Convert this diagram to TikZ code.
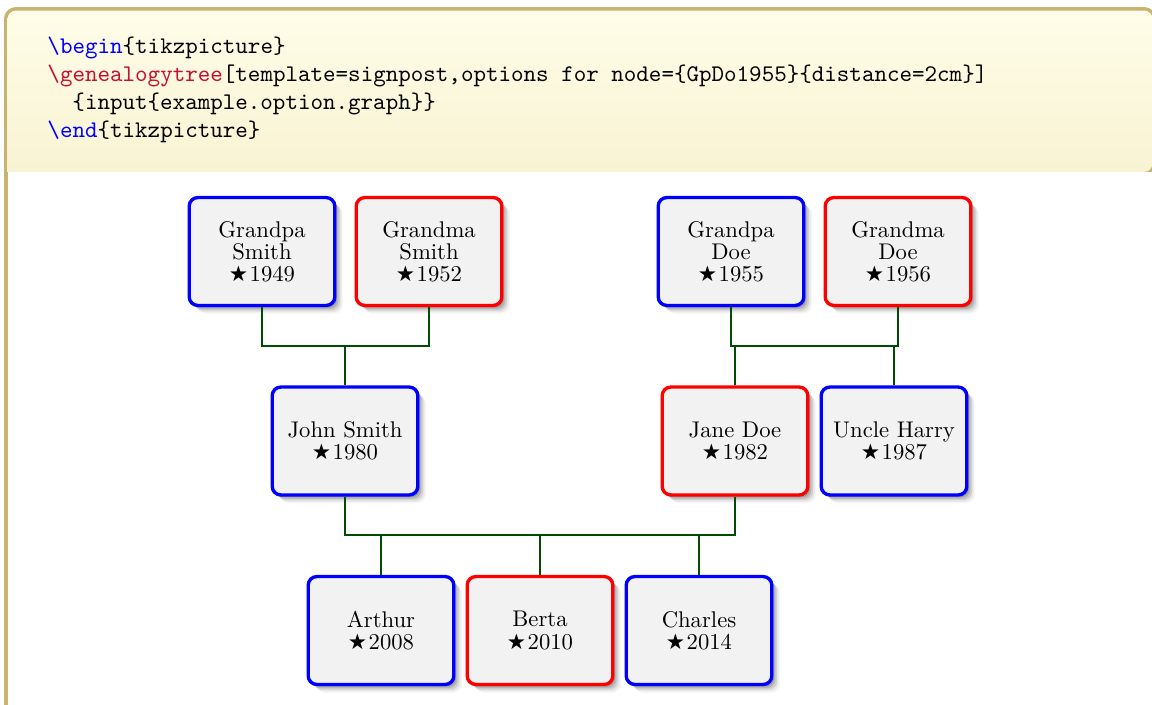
\documentclass[tikz,border=0pt]{standalone}
\usepackage{fontspec}
\newfontfamily\gtsym{DejaVu Sans}
\usetikzlibrary{shadows}
\definecolor{framec}{RGB}{200,180,110}
\definecolor{uptop}{RGB}{255,253,233}
\definecolor{upbot}{RGB}{248,243,210}
\definecolor{kwblue}{RGB}{0,0,255}
\definecolor{kwred}{RGB}{200,16,46}
\definecolor{connc}{RGB}{0,76,0}
\newcommand\gtborn{{\gtsym\fontsize{9}{9}\selectfont ★}\kern0.6pt}
\begin{document}
\begin{tikzpicture}[x=0.41894pt,y=-0.41894pt,
  fuzzy/.style={
    general shadow={shadow xshift=0.9pt,shadow yshift=-0.9pt,fill=black,opacity=.15},
    general shadow={shadow xshift=1.5pt,shadow yshift=-1.5pt,fill=black,opacity=.13},
    general shadow={shadow xshift=2.2pt,shadow yshift=-2.2pt,fill=black,opacity=.10},
    general shadow={shadow xshift=2.9pt,shadow yshift=-2.9pt,fill=black,opacity=.06},
    general shadow={shadow xshift=3.5pt,shadow yshift=-3.5pt,fill=black,opacity=.03}},
  pbox/.style={rectangle, rounded corners=3.6pt, line width=1.4pt, fill=gray!10,
    minimum width=61pt, minimum height=45.2pt, align=center, inner sep=1pt,
    font=\fontsize{9.5}{9.3}\selectfont, fuzzy,
    execute at begin node={\rule{0pt}{10.2pt}}},
  male/.style={pbox, draw=blue},
  female/.style={pbox, draw=red},
  conn/.style={draw=connc, line width=1.2pt},
  codeline/.style={anchor=base west, inner sep=0pt, font=\ttfamily\fontsize{10}{12}\selectfont}]
\useasboundingbox (0,0) rectangle (1152,704);
\clip (0,0) rectangle (1152,704);
% frame
\fill[framec, rounded corners=5pt] (4,7) rectangle (1156,740);
\shade[top color=uptop, bottom color=upbot] (7.5,172) [rounded corners=3.6pt] -- (7.5,10.5) -- (1152.5,10.5) -- (1152.5,172) [sharp corners] -- cycle;
\fill[white] (7.5,172) rectangle (1152.5,736);
% code
\node[codeline] (c1) at (47,53) {{\color{kwblue}\textbackslash begin}\{tikzpicture\}};
\node[codeline] (c2) at (47,81.3) {{\color{kwred}\textbackslash genealogytree}[template=signpost,options for node=\{GpDo1955\}\{distance=2cm\}]};
\node[codeline] (c3) at (72,109.6) {\{input\{example.option.graph\}\}};
\node[codeline] (c4) at (47,137.9) {{\color{kwblue}\textbackslash end}\{tikzpicture\}};
% family junctions
\coordinate (f1) at (345,346);
\coordinate (f2) at (814,346);
\coordinate (f3) at (540,535);
% persons
\node[male]   (gpsm) at (262,251.5) {Grandpa\\Smith\\\gtborn 1949};
\node[female] (gmsm) at (429,251.5) {Grandma\\Smith\\\gtborn 1952};
\node[male]   (gpdo) at (731,251.5) {Grandpa\\Doe\\\gtborn 1955};
\node[female] (gmdo) at (898,251.5) {Grandma\\Doe\\\gtborn 1956};
\node[male]   (john) at (345,441) {John Smith\\\gtborn 1980};
\node[female] (jane) at (735,441) {Jane Doe\\\gtborn 1982};
\node[male]   (harry) at (894,441) {Uncle Harry\\\gtborn 1987};
\node[male]   (arthur) at (381,630.5) {Arthur\\\gtborn 2008};
\node[female] (berta) at (540,630.5) {Berta\\\gtborn 2010};
\node[male]   (charles) at (699,630.5) {Charles\\\gtborn 2014};
\draw[conn] (gpsm.south) |- (f1) -| (gmsm.south);
\draw[conn] (f1) -- (john.north);
\draw[conn] (gpdo.south) |- (f2) -| (gmdo.south);
\draw[conn] (jane.north) |- (f2);
\draw[conn] (harry.north) |- (f2);
\draw[conn] (john.south) |- (f3) -| (jane.south);
\draw[conn] (arthur.north) |- (f3);
\draw[conn] (berta.north) -- (f3);
\draw[conn] (charles.north) |- (f3);
\end{tikzpicture}
\end{document}
